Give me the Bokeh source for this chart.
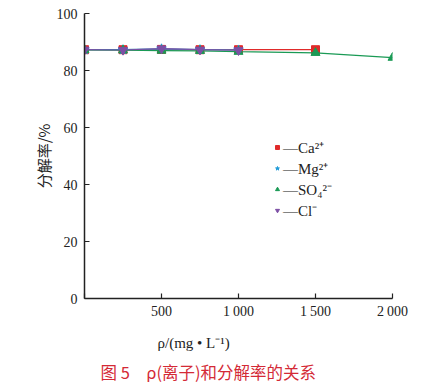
from bokeh.plotting import figure
from bokeh.models import Range1d, FixedTicker, Legend, LegendItem, Title
from bokeh.embed import file_html
from bokeh.resources import INLINE

# data
conc_main = [0, 250, 500, 750, 1000]
conc_ca = [0, 250, 500, 750, 1000, 1500]
conc_so4 = [0, 250, 500, 750, 1000, 1500, 2000]
ca = [87.3, 87.3, 87.4, 87.3, 87.3, 87.3]
mg = [87.3, 87.3, 87.6, 87.3, 87.2]
so4 = [87.2, 87.1, 87.0, 86.9, 86.6, 86.2, 84.5]
cl = [87.3, 87.2, 87.7, 87.3, 87.1]

x_ticks = [0, 500, 1000, 1500, 2000]
x_tick_labels = {0: "", 500: "500", 1000: "1\u2009000", 1500: "1\u2009500", 2000: "2\u2009000"}
y_ticks = [0, 20, 40, 60, 80, 100]

SERIF = "Liberation Serif"
CJK = "Noto Sans CJK SC"

p = figure(width=428, height=385, output_backend="svg", toolbar_location=None,
           x_range=Range1d(0, 2000), y_range=Range1d(0, 100),
           frame_width=308, frame_height=285,
           min_border_left=84, min_border_top=13, min_border_right=36, min_border_bottom=87)
p.outline_line_color = None
p.grid.grid_line_color = None
p.background_fill_color = "white"
p.border_fill_color = "white"

for ax in (p.xaxis[0], p.yaxis[0]):
    ax.axis_line_width = 1.5
    ax.axis_line_color = "#222222"
    ax.major_tick_line_color = "#222222"
    ax.major_tick_line_width = 1.2
    ax.major_tick_in = 5
    ax.major_tick_out = 0
    ax.minor_tick_line_color = None
    ax.major_label_text_font = SERIF
    ax.major_label_text_font_size = "14px"
    ax.major_label_text_color = "#222222"

p.xaxis.ticker = FixedTicker(ticks=x_ticks)
p.xaxis.major_label_overrides = x_tick_labels
p.xaxis.major_label_standoff = 5
p.yaxis.ticker = FixedTicker(ticks=y_ticks)
p.yaxis.major_label_standoff = 7

red, blue, green, purple = "#e02a2a", "#1e9ad8", "#1a9a55", "#7d4fa5"

p.line(conc_ca, ca, line_color=red, line_width=1.2)
r_ca = p.scatter(conc_ca, ca, marker="square", size=8, fill_color=red, line_color=red)
p.line(conc_main, mg, line_color=blue, line_width=1.2)
r_mg = p.scatter(conc_main, mg, marker="star", size=10, fill_color=blue, line_color=blue)
p.line(conc_so4, so4, line_color=green, line_width=1.2)
r_so4 = p.scatter(conc_so4, so4, marker="triangle", size=9, fill_color=green, line_color=green)
p.line(conc_main, cl, line_color=purple, line_width=1.2)
r_cl = p.scatter(conc_main, cl, marker="inverted_triangle", size=9, fill_color=purple, line_color=purple)

legend = Legend(items=[
    LegendItem(label="\u2014Ca\u00b2\u207a", renderers=[r_ca]),
    LegendItem(label="\u2014Mg\u00b2\u207a", renderers=[r_mg]),
    LegendItem(label="\u2014SO\u2084\u00b2\u207b", renderers=[r_so4]),
    LegendItem(label="\u2014Cl\u207b", renderers=[r_cl]),
], location=(188, 78))
legend.border_line_color = None
legend.background_fill_alpha = 0
legend.padding = 0
legend.margin = 0
legend.spacing = 1
legend.glyph_width = 10
legend.glyph_height = 20
legend.label_height = 20
legend.label_standoff = 1
legend.label_text_font = SERIF
legend.label_text_font_size = "15px"
legend.label_text_color = "#222222"
p.add_layout(legend)

ylab = Title(text="分解率/%", align="center",
             text_font=CJK, text_font_size="15px", text_font_style="normal",
             text_color="#222222", standoff=0)
p.add_layout(ylab, "left")

xlab = Title(text="ρ/(mg • L\u207b\u00b9)", align="left", offset=73,
             text_font=SERIF, text_font_size="15px", text_font_style="normal",
             text_color="#222222", standoff=22)
p.add_layout(xlab, "below")
cap = Title(text="图 5　ρ(离子)和分解率的关系", align="left", offset=16,
            text_font=CJK, text_font_size="16.5px", text_font_style="normal",
            text_color="#d42a36", standoff=-3, vertical_align="top")
p.add_layout(cap, "below")

open("out.html", "w").write(file_html(p, INLINE))
